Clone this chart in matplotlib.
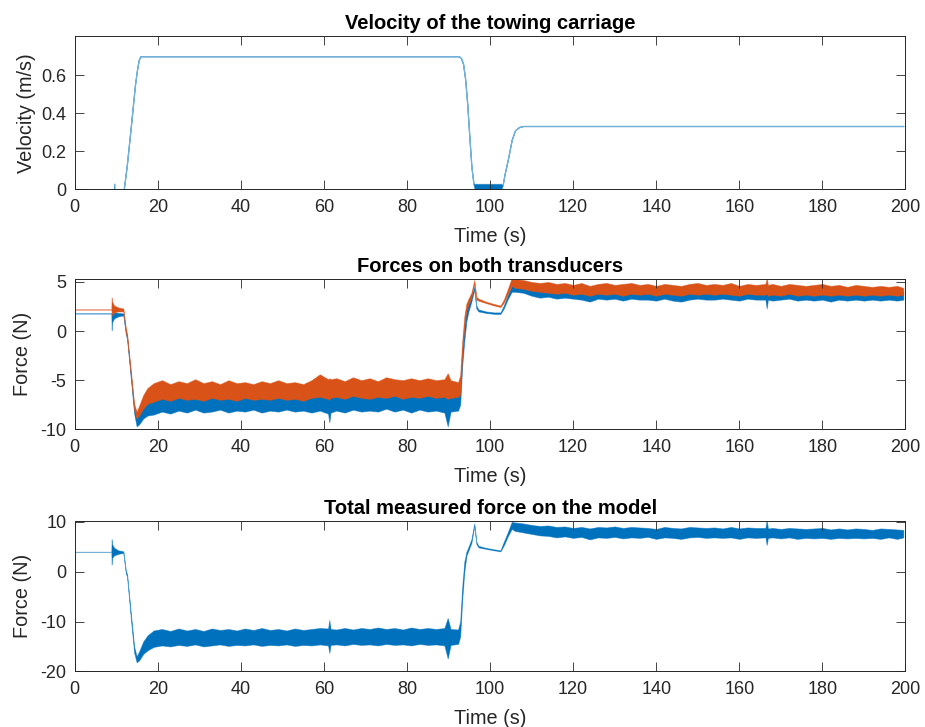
import numpy as np
import matplotlib
matplotlib.use("Agg")
import matplotlib.pyplot as plt
from matplotlib.ticker import FormatStrFormatter
from matplotlib.colors import to_rgba

plt.rcParams['font.family'] = ['Liberation Sans', 'DejaVu Sans']

BLUE = '#0072BD'
ORANGE = '#D95319'
INK = '#262626'

# ---- carriage velocity (m/s) ----
t_vel = [0, 9.45, 9.5, 9.55, 11.8, 12.5, 13.5, 14.5, 15.0, 15.4, 15.8, 16.5,
         92.5, 93.0, 93.5, 94.0, 94.5, 95.0, 95.5, 96.0, 96.3, 102.7,
         103.0, 103.5, 104.4, 105.2, 106.0, 107.0, 108.0, 199.5]
vel_hi = [0, 0, 0.03, 0, 0, 0.12, 0.33, 0.55, 0.63, 0.68, 0.70, 0.70,
          0.70, 0.69, 0.66, 0.58, 0.45, 0.28, 0.12, 0.03, 0.028, 0.028,
          0.02, 0.08, 0.17, 0.26, 0.31, 0.328, 0.333, 0.333]
vel_lo = [0, 0, 0, 0, 0, 0.12, 0.33, 0.55, 0.63, 0.68, 0.70, 0.70,
          0.70, 0.69, 0.66, 0.58, 0.45, 0.28, 0.12, 0.03, 0, 0,
          0.02, 0.08, 0.17, 0.26, 0.31, 0.328, 0.333, 0.333]

# ---- force records: time base shared by both transducers and the total ----
t_force = [0, 8.8, 8.9, 9.0, 9.5, 10.5, 11.7,
           12.3, 12.6, 13.5, 14.3, 14.9, 15.5, 16.5, 17.5,
           19, 21, 23, 25, 27, 29, 31, 33, 35, 37, 39, 41, 43, 45, 47, 49,
           51, 53, 55, 57, 59, 61, 61.3, 61.6, 63, 65, 67, 69, 71, 73, 75,
           77, 79, 81, 83, 85, 87, 89, 89.8, 90.5, 92.3,
           92.8, 93.3, 93.8, 94.3, 94.8, 95.5, 96.2, 96.7, 97.2, 99, 101,
           102.5, 103.3, 104.2, 105.2,
           106, 108, 110, 112, 114, 116, 118, 120, 122, 124, 126, 128, 130,
           132, 134, 136, 138, 140, 142, 144, 146, 148, 150, 152, 154, 156,
           158, 160, 162, 164, 166.3, 166.6, 166.9, 168, 170, 172, 174, 176,
           178, 180, 182, 184, 186, 188, 190, 192, 194, 196, 198, 199.5]

# transducer 1 (N), upper / lower envelope of the record
f1_hi = [1.8, 1.8, 1.9, 1.8, 1.9, 1.85, 1.8,
         0.0, -0.5, -4.3, -7.8, -8.8, -8.4, -7.6, -7.0,
         -6.7, -6.5, -6.8, -6.4, -6.6, -6.5, -6.7, -6.4, -6.6, -6.5, -6.7,
         -6.4, -6.6, -6.5, -6.7, -6.5, -6.6, -6.4, -6.7, -6.5, -6.3, -6.4,
         -6.5, -6.4, -6.6, -6.4, -6.5, -6.3, -6.6, -6.4, -6.5, -6.3, -6.5,
         -6.4, -6.6, -6.4, -6.5, -6.4, -6.2, -6.5, -6.4,
         -5.5, -2.0, 0.5, 2.2, 2.8, 3.6, 4.5, 2.6, 2.2, 2.0, 1.9, 1.9, 2.6,
         3.6, 4.6,
         4.8, 4.7, 4.5, 4.3, 4.4, 4.2, 4.3, 4.1, 4.2, 4.0, 4.2, 4.1, 4.2,
         4.0, 4.2, 4.1, 4.2, 4.0, 4.2, 4.1, 4.0, 4.2, 4.1, 4.2, 4.0, 4.1,
         4.2, 4.0, 4.1, 4.2, 4.0, 4.1, 4.0, 4.1, 4.0, 4.2, 4.0, 4.1, 4.0,
         4.1, 4.0, 4.1, 4.0, 4.1, 4.0, 4.1, 4.0, 4.1, 4.0, 4.0]
f1_lo = [1.8, 1.8, 0.1, 0.9, 1.3, 1.5, 1.6,
         -0.3, -0.8, -4.8, -8.4, -9.7, -9.5, -8.9, -8.6,
         -8.5, -8.2, -8.4, -8.1, -8.3, -8.0, -8.3, -8.2, -8.0, -8.3, -8.1,
         -8.2, -8.0, -8.3, -8.1, -8.2, -8.0, -8.2, -8.1, -8.3, -8.1, -8.4,
         -9.3, -8.3, -8.1, -8.3, -8.0, -8.2, -8.1, -8.2, -7.9, -8.2, -8.0,
         -8.3, -8.0, -8.2, -8.1, -8.3, -9.7, -8.2, -8.1,
         -7.5, -3.5, -1.0, 1.0, 2.0, 3.0, 4.2, 2.3, 2.0, 1.85, 1.75, 1.75,
         2.3, 3.2, 4.0,
         4.0, 3.9, 3.6, 3.4, 3.5, 3.3, 3.4, 3.3, 3.2, 3.0, 3.3, 3.2, 3.3,
         3.1, 3.3, 3.2, 3.2, 3.1, 3.3, 3.1, 3.0, 3.2, 3.3, 3.2, 3.2, 3.3,
         3.2, 3.1, 3.3, 3.2, 3.2, 2.3, 3.2, 3.1, 3.2, 3.3, 3.1, 3.2, 3.1,
         3.2, 3.0, 3.2, 3.1, 3.2, 3.1, 3.2, 3.1, 3.2, 3.1, 3.2]

# transducer 2 (N)
f2_hi = [2.2, 2.2, 3.4, 3.0, 2.6, 2.4, 2.3,
         0.3, -0.3, -4.0, -7.4, -8.2, -7.6, -6.5, -5.8,
         -5.3, -5.0, -5.4, -5.1, -5.3, -4.9, -5.3, -5.1, -5.4, -5.0, -5.3,
         -5.2, -5.4, -5.1, -5.3, -5.0, -5.3, -5.2, -5.4, -5.0, -4.4, -4.9,
         -4.8, -4.9, -4.8, -5.1, -4.7, -5.0, -4.8, -5.1, -4.7, -4.9, -5.0,
         -4.8, -5.0, -4.8, -5.0, -4.9, -4.3, -5.0, -5.2,
         -4.5, -1.0, 1.5, 2.8, 3.3, 3.9, 5.2, 3.5, 3.3, 3.0, 2.75, 2.6, 3.2,
         4.2, 5.4,
         5.3, 5.2, 5.0, 4.9, 5.0, 4.8, 4.9, 4.7, 4.9, 4.6, 4.8, 4.9, 4.7,
         4.8, 4.9, 4.7, 4.8, 4.6, 4.8, 4.7, 4.6, 4.8, 4.9, 4.7, 4.8, 4.7,
         4.9, 4.6, 4.8, 4.7, 4.8, 5.4, 4.7, 4.8, 4.6, 4.8, 4.7, 4.6, 4.7,
         4.8, 4.6, 4.7, 4.5, 4.7, 4.6, 4.5, 4.6, 4.5, 4.6, 4.4]
f2_lo = [2.2, 2.2, 1.8, 1.6, 1.9, 2.0, 2.0,
         -0.2, -0.7, -4.6, -8.0, -8.9, -8.6, -7.9, -7.4,
         -7.2, -6.9, -7.1, -6.8, -7.0, -6.9, -7.1, -6.8, -7.0, -6.9, -7.1,
         -6.8, -7.0, -6.9, -7.0, -6.8, -7.0, -6.9, -7.1, -6.8, -6.7, -6.9,
         -7.0, -6.8, -6.7, -6.9, -6.6, -6.8, -6.9, -6.7, -6.8, -6.6, -6.9,
         -6.7, -6.8, -6.6, -6.8, -6.7, -6.9, -6.8, -6.7,
         -6.5, -2.5, 0.5, 2.0, 2.7, 3.4, 4.8, 3.2, 3.1, 2.85, 2.6, 2.45, 2.9,
         3.7, 4.6,
         4.4, 4.3, 4.1, 4.0, 3.9, 3.8, 3.9, 3.7, 3.8, 3.6, 3.8, 3.7, 3.8,
         3.6, 3.8, 3.7, 3.8, 3.6, 3.8, 3.7, 3.6, 3.8, 3.7, 3.8, 3.7, 3.8,
         3.7, 3.6, 3.8, 3.7, 3.7, 3.8, 3.6, 3.7, 3.6, 3.8, 3.6, 3.7, 3.6,
         3.7, 3.6, 3.7, 3.6, 3.7, 3.6, 3.7, 3.6, 3.7, 3.6, 3.7]

# total force on the model (N)
ft_hi = [4.0, 4.0, 6.5, 5.5, 4.8, 4.3, 4.1,
         0.2, -0.5, -8.3, -15.0, -17.0, -16.0, -14.0, -12.8,
         -11.8, -11.5, -11.9, -11.4, -11.8, -11.5, -11.9, -11.4, -11.7,
         -11.5, -11.8, -11.4, -11.7, -11.3, -11.7, -11.5, -11.8, -11.4,
         -11.7, -11.5, -11.3, -11.4, -9.7, -11.5, -11.6, -11.3, -11.6,
         -11.3, -11.5, -11.2, -11.5, -11.3, -11.6, -11.2, -11.5, -11.3,
         -11.5, -11.3, -9.3, -11.5, -11.6,
         -10.0, -3.0, 2.0, 4.0, 5.0, 6.5, 9.7, 6.0, 5.2, 4.8, 4.5, 4.3, 6.0,
         7.8, 10.0,
         9.9, 9.7, 9.4, 9.2, 9.3, 9.0, 9.1, 8.8, 9.0, 8.7, 9.0, 8.9, 9.1,
         8.8, 9.0, 8.9, 8.8, 8.6, 9.0, 8.8, 8.7, 9.0, 8.9, 8.8, 8.9, 8.7,
         9.0, 8.7, 8.9, 8.8, 8.8, 10.4, 8.7, 8.8, 8.6, 8.8, 8.7, 8.6, 8.7,
         8.8, 8.5, 8.7, 8.5, 8.7, 8.6, 8.4, 8.7, 8.6, 8.5, 8.4]
ft_lo = [4.0, 4.0, 1.5, 2.8, 3.3, 3.6, 3.8,
         -0.3, -1.0, -9.3, -16.2, -18.2, -17.8, -16.5, -15.8,
         -15.1, -14.8, -15.0, -14.7, -14.9, -14.6, -15.0, -14.8, -14.6,
         -14.9, -14.7, -14.8, -14.6, -14.9, -14.7, -14.8, -14.6, -14.9,
         -14.7, -14.8, -14.6, -14.8, -16.3, -14.7, -14.6, -14.8, -14.5,
         -14.7, -14.6, -14.8, -14.5, -14.7, -14.6, -14.8, -14.5, -14.7,
         -14.6, -14.8, -17.4, -14.7, -14.5,
         -13.0, -5.5, 0.0, 3.2, 4.3, 5.8, 9.2, 5.6, 4.9, 4.6, 4.3, 4.1, 5.3,
         7.0, 8.6,
         8.2, 7.9, 7.6, 7.3, 7.2, 6.9, 7.1, 6.8, 7.0, 6.5, 6.9, 6.8, 7.0,
         6.7, 6.9, 6.8, 7.0, 6.6, 6.9, 6.8, 6.6, 6.9, 7.0, 6.8, 6.9, 6.8,
         6.9, 6.6, 6.9, 6.8, 6.9, 5.4, 6.8, 6.9, 6.7, 6.9, 6.6, 6.8, 6.7,
         6.8, 6.6, 6.8, 6.7, 6.8, 6.7, 6.8, 6.6, 6.9, 6.6, 6.9]

x_ticks = [0, 20, 40, 60, 80, 100, 120, 140, 160, 180, 200]


def band(ax, t, lo, hi, color, lw=0.6):
    # solid body of the noisy record with a softer, thin fringe around it
    ax.fill_between(t, lo, hi, facecolor=color, edgecolor=to_rgba(color, 0.55),
                    linewidth=lw)


def style_axes(ax, title, ylabel, ylim, yticks, ylabelpad=4):
    ax.set_xlim(0, 200)
    ax.set_ylim(*ylim)
    ax.set_xticks(x_ticks)
    ax.set_yticks(yticks)
    ax.yaxis.set_major_formatter(FormatStrFormatter('%g'))
    ax.set_title(title, fontsize=14.5, fontweight='bold', pad=5)
    ax.set_xlabel('Time (s)', fontsize=14.3, color=INK, labelpad=8)
    ax.set_ylabel(ylabel, fontsize=14.3, color=INK, labelpad=ylabelpad)
    ax.tick_params(direction='in', top=True, right=True, length=6.5,
                   width=0.6, labelsize=13, colors=INK)
    ax.tick_params(axis='x', pad=7)
    ax.tick_params(axis='y', pad=6)
    for sp in ax.spines.values():
        sp.set_color(INK)
        sp.set_linewidth(0.7)


fig = plt.figure(figsize=(9.25, 7.27), dpi=100)
ax1 = fig.add_axes([0.0808, 0.7396, 0.898, 0.2105])
ax2 = fig.add_axes([0.0808, 0.4095, 0.898, 0.2067])
ax3 = fig.add_axes([0.0808, 0.0766, 0.898, 0.2072])

band(ax1, t_vel, vel_lo, vel_hi, BLUE, lw=0.9)
style_axes(ax1, 'Velocity of the towing carriage', 'Velocity (m/s)',
           (0, 0.805), [0, 0.2, 0.4, 0.6])

band(ax2, t_force, f1_lo, f1_hi, BLUE)
band(ax2, t_force, f2_lo, f2_hi, ORANGE)
style_axes(ax2, 'Forces on both transducers', 'Force (N)',
           (-10, 5.3), [-10, -5, 0, 5], ylabelpad=6)

band(ax3, t_force, ft_lo, ft_hi, BLUE)
style_axes(ax3, 'Total measured force on the model', 'Force (N)',
           (-20, 10.26), [-20, -10, 0, 10], ylabelpad=6)

fig.savefig('out.png', dpi=100)
